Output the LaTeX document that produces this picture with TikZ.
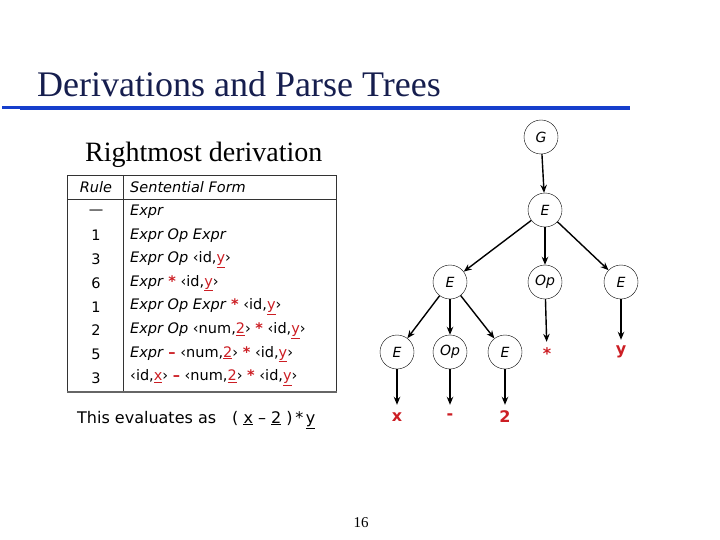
\documentclass[tikz,border=0pt]{standalone}
\usepackage{fontspec}
\setmainfont{Liberation Serif}
\setsansfont{DejaVu Sans}
\usetikzlibrary{arrows.meta}

\definecolor{titlenavy}{RGB}{22,30,78}
\definecolor{rulerblue}{RGB}{22,62,204}
\definecolor{termred}{RGB}{204,30,36}

% terminal (underlined, red), red symbol, non-terminal
\newcommand{\tm}[1]{\textcolor{termred}{\underline{#1}}}
\newcommand{\rd}[1]{\textcolor{termred}{\textbf{#1}}}
\newcommand{\nt}[1]{\textit{#1}}

\begin{document}
\begin{tikzpicture}[x=1pt, y=-1pt, >={Stealth[length=8pt,width=6.5pt]},
    tnode/.style={draw, circle, minimum size=34pt, inner sep=0pt,
        font=\sffamily\itshape\fontsize{14}{14}\selectfont},
    leaf/.style={text=termred, minimum height=24pt, inner sep=0pt,
        font=\sffamily\bfseries\fontsize{16}{16}\selectfont},
    branch/.style={->, line width=1.4pt},
    cell/.style={anchor=west, inner sep=0pt,
        font=\sffamily\fontsize{14.5}{14.5}\selectfont}]
    \useasboundingbox (0,0) rectangle (720,540);

    % title and rule under it
    \node[anchor=base west, inner sep=0pt, text=titlenavy,
        font=\fontsize{36}{36}\selectfont] (title) at (37,97) {Derivations and Parse Trees};
    \draw[rulerblue, line width=3pt] (2,108) -- (20,108);
    \draw[rulerblue, line width=4pt] (20,108) -- (630,108);

    \node[anchor=base west, inner sep=0pt,
        font=\fontsize{28}{28}\selectfont] (heading) at (85,162) {Rightmost derivation};

    % derivation table
    \draw[black!80, line width=0.8pt] (67,175) rectangle (336,392);
    \draw[black!80, line width=0.8pt] (67,199) -- (336,199);
    \draw[black!80, line width=0.8pt] (123,175) -- (123,392);
    \draw[black!60, line width=2pt] (67,392) -- (337,392);

    \node[cell, anchor=center] (rulehead) at (96,187) {\textit{Rule}};
    \node[cell] (formhead) at (130,187) {\textit{Sentential Form}};

    \foreach \n/\form [count=\i from 0] in {
        {—}/{\nt{Expr}},
        {1}/{\nt{Expr Op Expr}},
        {3}/{\nt{Expr Op} ‹id,\tm{y}›},
        {6}/{\nt{Expr} \rd{*} ‹id,\tm{y}›},
        {1}/{\nt{Expr Op Expr} \rd{*} ‹id,\tm{y}›},
        {2}/{\nt{Expr Op} ‹num,\tm{2}› \rd{*} ‹id,\tm{y}›},
        {5}/{\nt{Expr} \rd{–} ‹num,\tm{2}› \rd{*} ‹id,\tm{y}›},
        {3}/{‹id,\tm{x}› \rd{–} ‹num,\tm{2}› \rd{*} ‹id,\tm{y}›}}
    {
        \node[cell, anchor=center] (rule\i) at (96,{212+23.7*\i}) {\n};
        \node[cell] (form\i) at (130,{212+23.7*\i}) {\form};
    }

    \node[anchor=base west, inner sep=0pt,
        font=\sffamily\fontsize{16}{16}\selectfont] (evaluates) at (77,423)
        {This evaluates as\quad ( \underline{x} – \underline{2} )\,*\,\underline{y}};

    % parse tree
    \node[tnode] (G) at (541,137) {G};
    \node[tnode] (Eroot) at (545,210) {E};
    \node[tnode] (Eleft) at (450,282) {E};
    \node[tnode] (Opmid) at (545,282) {Op};
    \node[tnode] (Eright) at (621,282) {E};
    \node[tnode] (Ex) at (397,352) {E};
    \node[tnode] (Opminus) at (450,352) {Op};
    \node[tnode] (Etwo) at (505,352) {E};

    \node[leaf] (star) at (547,354) {*};
    \node[leaf] (yleaf) at (621,352) {y};
    \node[leaf] (xleaf) at (397,417) {x};
    \node[leaf] (minus) at (450,417) {-};
    \node[leaf] (two) at (505,417) {2};

    \draw[branch] (G) -- (Eroot);
    \foreach \c in {Eleft,Opmid,Eright}
        \draw[branch] (Eroot) -- (\c);
    \foreach \c in {Ex,Opminus,Etwo}
        \draw[branch] (Eleft) -- (\c);
    \draw[branch] (Opmid) -- (star);
    \draw[branch] (Eright) -- (yleaf);
    \draw[branch] (Ex) -- (xleaf);
    \draw[branch] (Opminus) -- (minus);
    \draw[branch] (Etwo) -- (two);

    % page number
    \node[font=\fontsize{15}{15}\selectfont] (page) at (361,523) {16};
\end{tikzpicture}
\end{document}
